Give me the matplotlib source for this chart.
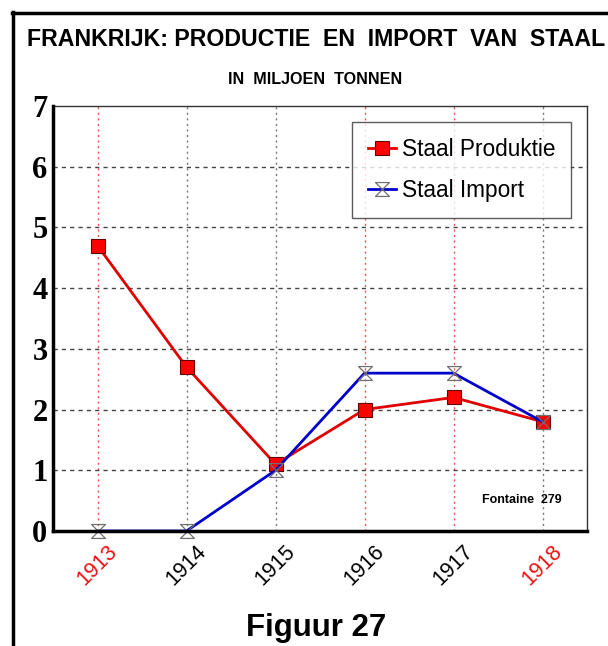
import matplotlib
matplotlib.use("Agg")
import matplotlib.pyplot as plt
from matplotlib.path import Path
import numpy as np

years = ["1913", "1914", "1915", "1916", "1917", "1918"]
productie = [4.7, 2.7, 1.1, 2.0, 2.2, 1.8]
importv = [0.0, 0.0, 1.0, 2.6, 2.6, 1.8]
label_colors = ["#ee1111", "black", "black", "black", "black", "#ee1111"]
vgrid_colors = ["#f05050", "#777777", "#777777", "#f05050", "#f05050", "#777777"]
yticks = [0, 1, 2, 3, 4, 5, 6, 7]

fig = plt.figure(figsize=(6.08, 6.46), dpi=100)
ax = fig.add_axes([53/608, 1-531/646, (587-53)/608, (531-106)/646])

x = np.arange(len(years))

# vertical dotted grid lines
for xi, c in zip(x, vgrid_colors):
    ax.axvline(xi, color=c, lw=1.0, ls=(0, (1.5, 2.5)), zorder=1)
# horizontal dashed grid lines
for yv in yticks[1:-1]:
    ax.axhline(yv, color="#444444", lw=1.0, ls=(0, (3, 3)), zorder=1)

hourglass = Path([(-1, 1), (1, 1), (-1, -1), (1, -1), (-1, 1)],
                 [Path.MOVETO, Path.LINETO, Path.LINETO, Path.LINETO, Path.CLOSEPOLY])

ax.plot(x, productie, color="#e00000", lw=2.0, marker="s", markersize=10,
        markerfacecolor="#ff0000", markeredgecolor="#660000", markeredgewidth=0.8,
        label="Staal Produktie", zorder=4, clip_on=False)
ax.plot(x, importv, color="#0000cc", lw=2.0, label="Staal Import", zorder=5,
        marker=hourglass, markersize=10, markerfacecolor="none",
        markeredgecolor="#707070", markeredgewidth=0.9, clip_on=False)

ax.set_xlim(-0.5, 5.5)
ax.set_ylim(0, 7)
ax.set_yticks(yticks)
ax.set_yticklabels([str(v) for v in yticks], fontfamily="Liberation Serif",
                   fontweight="bold", fontsize=22)
ax.set_xticks(x)
ax.set_xticklabels(years, rotation=45, fontfamily="Liberation Sans", fontsize=15.5)
for lab, c in zip(ax.get_xticklabels(), label_colors):
    lab.set_color(c)
ax.tick_params(axis="y", length=0, pad=4)
ax.tick_params(axis="x", length=0, pad=7)

for s in ["left", "bottom"]:
    ax.spines[s].set_linewidth(2.5)
    ax.spines[s].set_color("black")
    ax.spines[s].set_zorder(6)
for s in ["top", "right"]:
    ax.spines[s].set_linewidth(1.0)
    ax.spines[s].set_color("#333333")

leg = ax.legend(loc="upper left", bbox_to_anchor=(0.56, 0.963),
                frameon=True, fancybox=False, shadow=False,
                prop={"family": "Liberation Sans", "size": 16.3},
                handlelength=1.25, handletextpad=0.25, borderpad=0.7,
                labelspacing=0.8, borderaxespad=0)
leg.get_frame().set_edgecolor("#333333")
leg.get_frame().set_linewidth(1.0)
leg.set_zorder(7)

ax.text(0.953, 0.073, "Fontaine  279", transform=ax.transAxes, ha="right",
        va="center", fontfamily="Liberation Sans", fontweight="bold", fontsize=9)

fig.text(316/608, 1-40/646, "FRANKRIJK: PRODUCTIE  EN  IMPORT  VAN  STAAL",
         ha="center", va="center", fontfamily="Liberation Sans",
         fontweight="bold", fontsize=16.7)
fig.text(315/608, 1-80/646, "IN  MILJOEN  TONNEN", ha="center", va="center",
         fontfamily="Liberation Sans", fontweight="bold", fontsize=11.6)
fig.text(316/608, 1-628/646, "Figuur 27", ha="center", va="center",
         fontfamily="Liberation Sans", fontweight="bold", fontsize=22.5)

# outer border lines (left and top)
fig.add_artist(plt.Line2D([13/608, 13/608], [0, 1-12/646], color="black", lw=2.5,
                          transform=fig.transFigure))
fig.add_artist(plt.Line2D([12/608, 1], [1-13/646, 1-13/646], color="black", lw=2.5,
                          transform=fig.transFigure))

fig.savefig("out.png", dpi=100)
